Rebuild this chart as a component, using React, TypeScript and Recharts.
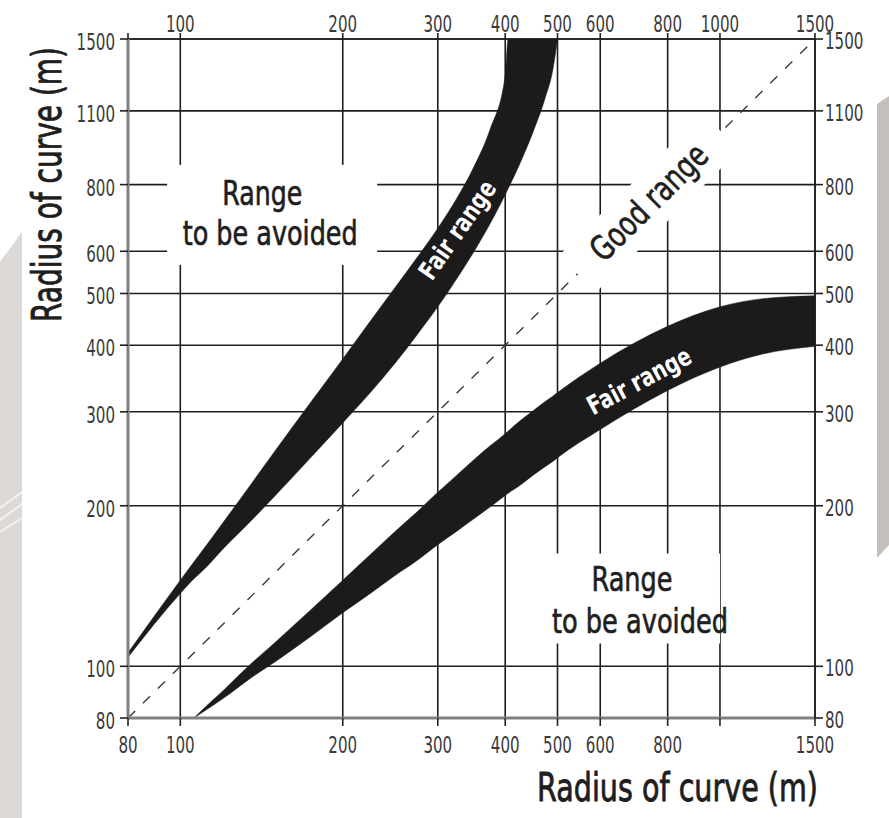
import React, { useLayoutEffect, useRef, useState } from "react";
import {
  ComposedChart,
  Area,
  Line,
  XAxis,
  YAxis,
  CartesianGrid,
  ReferenceDot
} from "recharts";

// Radius of the first curve (m), horizontal axis
const radiusX = [80, 100, 106, 110, 120, 135, 150, 175, 200, 225, 250, 275, 300, 325, 350, 375, 400, 405, 425, 450, 475, 490, 500, 600, 800, 1000, 1200, 1500];

// Upper "fair range" band: radius of the following curve (m), low and high edge
const fairUpperLow = [104, 137, 146, 151, 166, 187, 209, 247, 286, 326, 370, 419, 472, 532, 599, 676, 766, 786, 872, 1001, 1168, 1311, 1500, null, null, null, null, null];
const fairUpperHigh = [106, 145, 157, 165, 186, 219, 254, 314, 377, 444, 513, 585, 663, 753, 864, 1016, 1282, 1500, 1500, 1500, 1500, 1500, 1500, null, null, null, null, null];

// Lower "fair range" band
const fairLowerLow = [null, null, 80, 82, 87, 95, 102, 114, 126, 137, 148, 158, 169, 179, 189, 199, 209, 211, 218, 228, 237, 242, 246, 278, 329, 364, 385, 398];
const fairLowerHigh = [null, null, 80, 83, 90, 101, 111, 128, 145, 162, 179, 195, 212, 228, 244, 259, 273, 276, 288, 301, 314, 321, 326, 370, 434, 472, 489, 495];

// Equal radii (dashed diagonal): only its two ends
const equalRadius = radiusX.map((x, i) => (i === 0 || i === radiusX.length - 1 ? x : null));

const xTicks = [80, 100, 200, 300, 400, 500, 600, 800, 1000, 1500];
const yTicks = [80, 100, 200, 300, 400, 500, 600, 800, 1100, 1500];
const bottomUnlabelled = [1000];
const topUnlabelled = [80];

// where the annotations sit, in axis values
const avoidUpperAt = { x: 148, y: 702 };
const avoidLowerAt = { x: 687, y: 134 };
const goodAt = { x: 740, y: 740 };
const fairUpperAt = { x: 326, y: 658 };
const fairLowerAt = { x: 708, y: 343 };

const rows = radiusX.map((x, i) => ({
  x,
  fairUpper: fairUpperLow[i] == null ? null : [fairUpperLow[i], fairUpperHigh[i]],
  fairLower: fairLowerLow[i] == null ? null : [fairLowerLow[i], fairLowerHigh[i]],
  equal: equalRadius[i]
}));

const FONT = "'DejaVu Sans', 'Liberation Sans', sans-serif";
const INK = "#1c1a1a";

// condensed look: measure the text, then squeeze it sideways to the wanted width
const Squeezed = ({ x, y, text, size, width, weight = "normal", fill = "#1e1e1e", anchor = "middle", rotate = 0, heavy = 0 }: any) => {
  const ref = useRef<SVGTextElement>(null);
  const [sx, setSx] = useState(0.62);
  useLayoutEffect(() => {
    if (ref.current) {
      const w = ref.current.getComputedTextLength();
      if (w > 0) setSx(width / w);
    }
  }, [text, size, width, weight]);
  return (
    <g transform={`translate(${x} ${y}) rotate(${rotate}) scale(${sx} 1)`}>
      <text
        ref={ref}
        x={0}
        y={0}
        fontSize={size}
        fontWeight={weight}
        fill={fill}
        stroke={heavy ? fill : "none"}
        strokeWidth={heavy}
        fontFamily={FONT}
        textAnchor={anchor}
      >
        {text}
      </text>
    </g>
  );
};

const tickText = (x: number, y: number, value: number, anchor: string, dy: number) => (
  <Squeezed
    x={x}
    y={y + dy}
    text={String(value)}
    size={23}
    width={String(value).length * 9.6}
    anchor={anchor}
    fill="#3a3a3a"
  />
);

const AvoidLabel = ({ cx, cy, box, lines }: any) => (
  <g>
    <rect x={cx + box[0]} y={cy + box[1]} width={box[2]} height={box[3]} fill="#fff" />
    {lines.map((l: any) => (
      <Squeezed key={l.text} x={cx + l.dx} y={cy + l.dy} text={l.text} size={34} width={l.w} heavy={0.7} />
    ))}
  </g>
);

const GoodText = ({ cx, cy }: any) => (
  <g transform={`translate(${cx} ${cy})`}>
    <rect x={-101} y={-26} width={202} height={52} fill="#fff" transform="rotate(-44.7)" />
    <g transform="rotate(-44.7)">
      <Squeezed x={0} y={11} text="Good range" size={34} width={150} heavy={0.7} />
    </g>
  </g>
);

const FairLabel = ({ cx, cy, angle }: any) => (
  <g transform={`translate(${cx} ${cy}) rotate(${angle})`}>
    <Squeezed x={0} y={9} text="Fair range" size={26} width={114} weight="bold" fill="#ffffff" />
  </g>
);

export default function App() {
  return (
    <div style={{ position: "absolute", left: 0, top: 0, width: 889, height: 818, background: "#fff" }}>
      <svg width={889} height={818} style={{ position: "absolute", left: 0, top: 0 }}>
        <polygon points="0,262 22,232 22,818 0,818" fill="#dcd9d6" />
        <line x1={0} y1={508} x2={22} y2={492} stroke="#f4f3f2" strokeWidth={2} />
        <line x1={0} y1={520} x2={22} y2={504} stroke="#f4f3f2" strokeWidth={2} />
        <line x1={0} y1={532} x2={22} y2={518} stroke="#f4f3f2" strokeWidth={1.5} />
        <polygon points="877,104 889,96 889,545 877,558" fill="#c4bfbb" />
      </svg>

      <div style={{ position: "absolute", left: 0, top: 0 }}>
        <ComposedChart width={889} height={818} data={rows} margin={{ top: 0, right: 0, bottom: 60, left: 0 }}>
          <XAxis
            xAxisId="bottom"
            dataKey="x"
            type="number"
            scale="log"
            domain={[80, 1500]}
            allowDataOverflow
            ticks={xTicks}
            interval={0}
            height={40}
            tickSize={8}
            tickMargin={2}
            axisLine={{ stroke: "#808080", strokeWidth: 3 }}
            tickLine={{ stroke: "#222", strokeWidth: 1.6 }}
            tick={(p: any) =>
              bottomUnlabelled.includes(p.payload.value) ? <g /> : tickText(p.x, p.y, p.payload.value, "middle", 25)
            }
          />
          <XAxis
            xAxisId="top"
            orientation="top"
            dataKey="x"
            type="number"
            scale="log"
            domain={[80, 1500]}
            allowDataOverflow
            ticks={xTicks}
            interval={0}
            height={39}
            tickSize={6}
            tickMargin={3}
            axisLine={{ stroke: "#1e1e1e", strokeWidth: 1.6 }}
            tickLine={{ stroke: "#222", strokeWidth: 1.6 }}
            tick={(p: any) =>
              topUnlabelled.includes(p.payload.value) ? <g /> : tickText(p.x, p.y, p.payload.value, "middle", 2)
            }
          />
          <YAxis
            yAxisId="left"
            type="number"
            scale="log"
            domain={[80, 1500]}
            allowDataOverflow
            ticks={yTicks}
            interval={0}
            width={128}
            tickSize={8}
            tickMargin={5}
            axisLine={{ stroke: "#808080", strokeWidth: 3 }}
            tickLine={{ stroke: "#222", strokeWidth: 1.6 }}
            tick={(p: any) => tickText(p.x, p.y, p.payload.value, "end", 11)}
          />
          <YAxis
            yAxisId="right"
            orientation="right"
            type="number"
            scale="log"
            domain={[80, 1500]}
            allowDataOverflow
            ticks={yTicks}
            interval={0}
            width={74}
            tickSize={8}
            tickMargin={2}
            axisLine={{ stroke: "#1e1e1e", strokeWidth: 1.6 }}
            tickLine={{ stroke: "#222", strokeWidth: 1.6 }}
            tick={(p: any) => tickText(p.x, p.y, p.payload.value, "start", 10)}
          />
          <CartesianGrid xAxisId="bottom" yAxisId="left" stroke="#1e1e1e" strokeWidth={1.6} />

          <Area
            xAxisId="bottom"
            yAxisId="left"
            dataKey="fairUpper"
            type="monotone"
            fill={INK}
            fillOpacity={1}
            stroke={INK}
            strokeWidth={0.5}
            isAnimationActive={false}
            activeDot={false}
          />
          <Area
            xAxisId="bottom"
            yAxisId="left"
            dataKey="fairLower"
            type="monotone"
            fill={INK}
            fillOpacity={1}
            stroke={INK}
            strokeWidth={0.5}
            isAnimationActive={false}
            activeDot={false}
          />
          <Line
            xAxisId="bottom"
            yAxisId="left"
            dataKey="equal"
            type="linear"
            stroke="#3a3a3a"
            strokeWidth={1.4}
            strokeDasharray="10 11"
            dot={false}
            activeDot={false}
            connectNulls
            isAnimationActive={false}
          />

          <ReferenceDot
            xAxisId="bottom"
            yAxisId="left"
            x={avoidUpperAt.x}
            y={avoidUpperAt.y}
            ifOverflow="visible"
            shape={(p: any) => (
              <AvoidLabel
                cx={p.cx}
                cy={p.cy}
                box={[-105, -50, 210, 100]}
                lines={[
                  { text: "Range", dx: -10, dy: -10, w: 80 },
                  { text: "to be avoided", dx: -2, dy: 30, w: 175 }
                ]}
              />
            )}
          />
          <ReferenceDot
            xAxisId="bottom"
            yAxisId="left"
            x={avoidLowerAt.x}
            y={avoidLowerAt.y}
            ifOverflow="visible"
            shape={(p: any) => (
              <AvoidLabel
                cx={p.cx}
                cy={p.cy}
                box={[-87, -45, 175, 90]}
                lines={[
                  { text: "Range", dx: 0, dy: -8, w: 81 },
                  { text: "to be avoided", dx: 8, dy: 34, w: 176 }
                ]}
              />
            )}
          />
          <ReferenceDot
            xAxisId="bottom"
            yAxisId="left"
            x={goodAt.x}
            y={goodAt.y}
            ifOverflow="visible"
            shape={(p: any) => <GoodText cx={p.cx} cy={p.cy} />}
          />
          <ReferenceDot
            xAxisId="bottom"
            yAxisId="left"
            x={fairUpperAt.x}
            y={fairUpperAt.y}
            ifOverflow="visible"
            shape={(p: any) => <FairLabel cx={p.cx} cy={p.cy} angle={-55} />}
          />
          <ReferenceDot
            xAxisId="bottom"
            yAxisId="left"
            x={fairLowerAt.x}
            y={fairLowerAt.y}
            ifOverflow="visible"
            shape={(p: any) => <FairLabel cx={p.cx} cy={p.cy} angle={-28} />}
          />
        </ComposedChart>
      </div>

      <svg width={889} height={818} style={{ position: "absolute", left: 0, top: 0, pointerEvents: "none" }}>
        <Squeezed text="Radius of curve (m)" x={61} y={184.5} rotate={-90} size={41} width={275} heavy={0.9} />
        <Squeezed text="Radius of curve (m)" x={677.5} y={801} size={39} width={281} heavy={0.9} />
      </svg>
    </div>
  );
}
